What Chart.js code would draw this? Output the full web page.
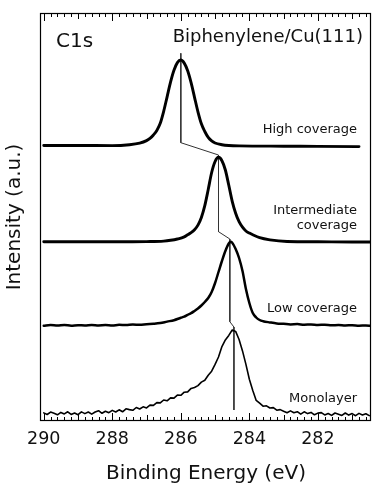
<!DOCTYPE html>
<html><head><meta charset="utf-8">
<script src="https://cdn.jsdelivr.net/npm/chart.js@4.4.1/dist/chart.umd.min.js"></script>
<style>html,body{margin:0;padding:0;background:#fff}canvas{display:block}</style>
</head><body>
<canvas id="c" width="372" height="486"></canvas>
<script>
// C1s spectra of biphenylene on Cu(111), stacked with vertical offsets (arbitrary units)
const tickValues = [290, 288, 286, 284, 282];

const highE = [290.0, 289.0, 288.0, 287.5, 287.2, 287.0, 286.9, 286.8, 286.7, 286.6, 286.5, 286.4, 286.3, 286.2, 286.1, 286.0, 285.9, 285.8, 285.7, 285.6, 285.5, 285.4, 285.3, 285.2, 285.1, 285.0, 284.8, 284.6, 284.3, 283.0, 282.0, 280.8];
const highI = [275.5, 275.5, 275.4, 276.3, 277.9, 280.4, 282.6, 286.0, 290.6, 297.7, 309.7, 324.2, 338.8, 350.7, 358.4, 361.0, 357.9, 350.2, 338.3, 323.7, 309.2, 297.2, 289.5, 283.6, 280.1, 278.0, 276.3, 275.5, 275.1, 274.8, 274.6, 274.4];

const interE = [290.0, 288.0, 287.0, 286.5, 286.3, 286.1, 285.9, 285.8, 285.7, 285.6, 285.5, 285.4, 285.3, 285.2, 285.1, 285.0, 284.9, 284.8, 284.7, 284.6, 284.5, 284.4, 284.3, 284.2, 284.1, 284.0, 283.9, 283.7, 283.4, 282.9, 282.0, 281.0, 280.45];
const interI = [179.3, 179.2, 179.4, 179.9, 180.7, 182.0, 184.1, 186.2, 188.3, 191.3, 195.9, 203.6, 215.4, 231.5, 248.5, 259.5, 263.7, 260.3, 251.0, 235.7, 219.7, 207.8, 199.3, 193.8, 190.0, 187.9, 186.2, 183.3, 181.1, 179.5, 179.2, 179.0, 179.0];

const lowE = [290.0, 289.8, 289.6, 289.4, 289.2, 289.0, 288.8, 288.6, 288.4, 288.2, 288.0, 287.8, 287.6, 287.4, 287.2, 287.0, 286.8, 286.6, 286.4, 286.2, 286.0, 285.9, 285.8, 285.7, 285.6, 285.5, 285.4, 285.3, 285.2, 285.1, 285.0, 284.9, 284.8, 284.7, 284.6, 284.55, 284.5, 284.4, 284.3, 284.2, 284.1, 284.0, 283.9, 283.8, 283.7, 283.6, 283.4, 283.2, 283.0, 282.8, 282.6, 282.4, 282.2, 282.0, 281.8, 281.6, 281.4, 281.2, 281.0, 280.8, 280.6, 280.45];
const lowI = [95.2, 95.9, 95.4, 96.0, 95.3, 95.8, 95.5, 96.1, 95.6, 95.9, 95.5, 96.2, 95.9, 96.5, 96.2, 96.8, 97.2, 97.9, 99.4, 100.8, 103.2, 104.3, 106.2, 107.8, 110.1, 112.6, 115.5, 119.0, 123.0, 129.0, 138.0, 149.0, 160.0, 170.0, 177.5, 179.2, 178.3, 172.0, 163.0, 150.0, 132.0, 118.0, 108.0, 103.5, 101.0, 99.8, 98.6, 97.6, 97.2, 96.6, 96.9, 96.3, 96.5, 96.0, 96.3, 95.7, 96.0, 95.5, 95.8, 95.3, 95.6, 95.2];

const monoE = [290.0, 289.9, 289.8, 289.7, 289.6, 289.5, 289.4, 289.3, 289.2, 289.1, 289.0, 288.9, 288.8, 288.7, 288.6, 288.5, 288.4, 288.3, 288.2, 288.1, 288.0, 287.9, 287.8, 287.7, 287.6, 287.5, 287.4, 287.3, 287.2, 287.1, 287.0, 286.9, 286.8, 286.7, 286.6, 286.5, 286.4, 286.3, 286.2, 286.1, 286.0, 285.9, 285.8, 285.7, 285.6, 285.5, 285.4, 285.3, 285.2, 285.1, 285.0, 284.9, 284.8, 284.7, 284.6, 284.5, 284.4, 284.3, 284.2, 284.1, 284.0, 283.9, 283.8, 283.7, 283.6, 283.5, 283.4, 283.3, 283.2, 283.1, 283.0, 282.9, 282.8, 282.7, 282.6, 282.5, 282.4, 282.3, 282.2, 282.1, 282.0, 281.9, 281.8, 281.7, 281.6, 281.5, 281.4, 281.3, 281.2, 281.1, 281.0, 280.9, 280.8, 280.7, 280.6, 280.5];
const monoI = [8.1, 6.5, 8.9, 7.7, 6.2, 8.6, 7.1, 9.2, 6.6, 8.0, 6.3, 9.1, 7.4, 9.0, 6.9, 9.0, 10.3, 7.7, 9.8, 8.3, 10.6, 9.0, 11.2, 9.2, 12.2, 11.4, 10.7, 13.5, 12.0, 14.2, 13.1, 15.9, 15.6, 18.4, 18.1, 21.0, 20.2, 23.1, 22.9, 25.9, 25.7, 28.8, 29.1, 32.6, 33.5, 35.4, 38.9, 40.7, 45.8, 49.8, 56.6, 64.0, 74.4, 81.1, 85.6, 91.0, 89.6, 81.5, 70.1, 56.6, 41.7, 30.5, 20.6, 17.8, 14.8, 15.2, 13.0, 13.4, 10.8, 11.4, 9.8, 8.3, 10.1, 8.2, 9.3, 6.9, 9.2, 7.4, 8.6, 6.2, 7.9, 8.4, 6.1, 7.5, 5.6, 8.0, 6.8, 5.6, 8.0, 5.9, 7.4, 5.3, 7.6, 6.0, 7.3, 5.4];

// peak-position guide connecting the four spectra
const markerE = [286.0, 286.0, 284.9, 284.9, 284.57, 284.57, 284.45, 284.45];
const markerI = [367.7, 278.3, 266.0, 189.3, 182.0, 99.3, 94.0, 11.0];

const curveLabels = [["High coverage"], ["Intermediate", "coverage"], ["Low coverage"], ["Monolayer"]];
const titleLeft = "C1s";
const titleRight = "Biphenylene/Cu(111)";

const FONT = '"DejaVu Sans", Verdana, sans-serif';
const pts = (xs, ys) => xs.map((x, i) => ({ x, y: ys[i] }));

const frameAndText = {
  id: 'frameAndText',
  beforeDraw(chart) {
    const { ctx, width, height } = chart;
    ctx.save(); ctx.fillStyle = '#fff'; ctx.fillRect(0, 0, width, height); ctx.restore();
  },
  afterDatasetsDraw(chart) {
    const { ctx, chartArea: a, scales: { x } } = chart;
    ctx.save();
    ctx.strokeStyle = '#000';
    ctx.lineWidth = 1.2;
    ctx.strokeRect(a.left - 0.5, a.top + 0.5, a.right - a.left, a.bottom - a.top - 1);
    ctx.lineWidth = 1;
    ctx.beginPath();
    for (let i = Math.ceil(x.min * 5); i <= Math.floor(x.max * 5); i++) {
      const px = Math.round(x.getPixelForValue(i / 5)) + 0.5;
      const len = i % 10 === 0 ? 8 : (i % 5 === 0 ? 6 : 4);
      ctx.moveTo(px, a.bottom); ctx.lineTo(px, a.bottom - len);
      ctx.moveTo(px, a.top); ctx.lineTo(px, a.top + len);
    }
    ctx.stroke();

    ctx.fillStyle = '#111';
    ctx.textBaseline = 'alphabetic';
    ctx.font = '20px ' + FONT;
    ctx.textAlign = 'left';
    ctx.fillText(titleLeft, a.left + 15, a.top + 34);
    ctx.font = '18px ' + FONT;
    ctx.textAlign = 'right';
    ctx.fillText(titleRight, a.right - 8, a.top + 29);

    ctx.font = '13px ' + FONT;
    const rightX = a.right - 14;
    const baselines = [[a.top + 120], [a.top + 201, a.top + 216], [a.top + 299], [a.top + 389]];
    curveLabels.forEach((lines, k) => {
      lines.forEach((t, j) => ctx.fillText(t, rightX, baselines[k][j]));
    });
    ctx.restore();
  }
};

const lineStyle = (w, smooth) => ({
  borderColor: '#000', borderWidth: w, pointRadius: 0, fill: false,
  cubicInterpolationMode: smooth ? 'monotone' : 'default', tension: 0,
  borderJoinStyle: 'round', borderCapStyle: 'round'
});

new Chart(document.getElementById('c'), {
  type: 'scatter',
  data: {
    datasets: [
      { label: 'High coverage', data: pts(highE, highI), showLine: true, ...lineStyle(2.9, true) },
      { label: 'Intermediate coverage', data: pts(interE, interI), showLine: true, ...lineStyle(2.9, true) },
      { label: 'Low coverage', data: pts(lowE, lowI), showLine: true, ...lineStyle(2.5, true) },
      { label: 'Monolayer', data: pts(monoE, monoI), showLine: true, ...lineStyle(1.6, false) },
      { label: 'Peak shift', data: pts(markerE, markerI), showLine: true, borderColor: '#333', borderWidth: 1, pointRadius: 0, tension: 0 }
    ]
  },
  options: {
    responsive: false,
    animation: false,
    devicePixelRatio: 1,
    layout: { padding: { top: 13, right: 1, left: 0, bottom: 0 } },
    plugins: { legend: { display: false }, tooltip: { enabled: false } },
    scales: {
      x: {
        type: 'linear', reverse: true, min: 280.45, max: 290.08,
        afterBuildTicks: s => { s.ticks = tickValues.map(v => ({ value: v })); },
        afterFit: s => { s.height = 65; },
        grid: { display: false, drawTicks: false },
        border: { display: false },
        ticks: { color: '#111', padding: 8, maxRotation: 0, font: { family: FONT, size: 17.5, lineHeight: 1.2 }, callback: v => String(v) },
        title: { display: true, text: 'Binding Energy (eV)', color: '#111', padding: { top: 0, bottom: 0 }, font: { family: FONT, size: 20, lineHeight: 1.2 } }
      },
      y: {
        type: 'linear', min: 0, max: 408,
        afterFit: s => { s.width = 41; },
        grid: { display: false, drawTicks: false },
        border: { display: false },
        ticks: { display: false },
        title: { display: true, text: 'Intensity (a.u.)', color: '#111', padding: { top: 3, bottom: 0 }, font: { family: FONT, size: 20, lineHeight: 1.2 } }
      }
    }
  },
  plugins: [frameAndText]
});
</script>
</body></html>
